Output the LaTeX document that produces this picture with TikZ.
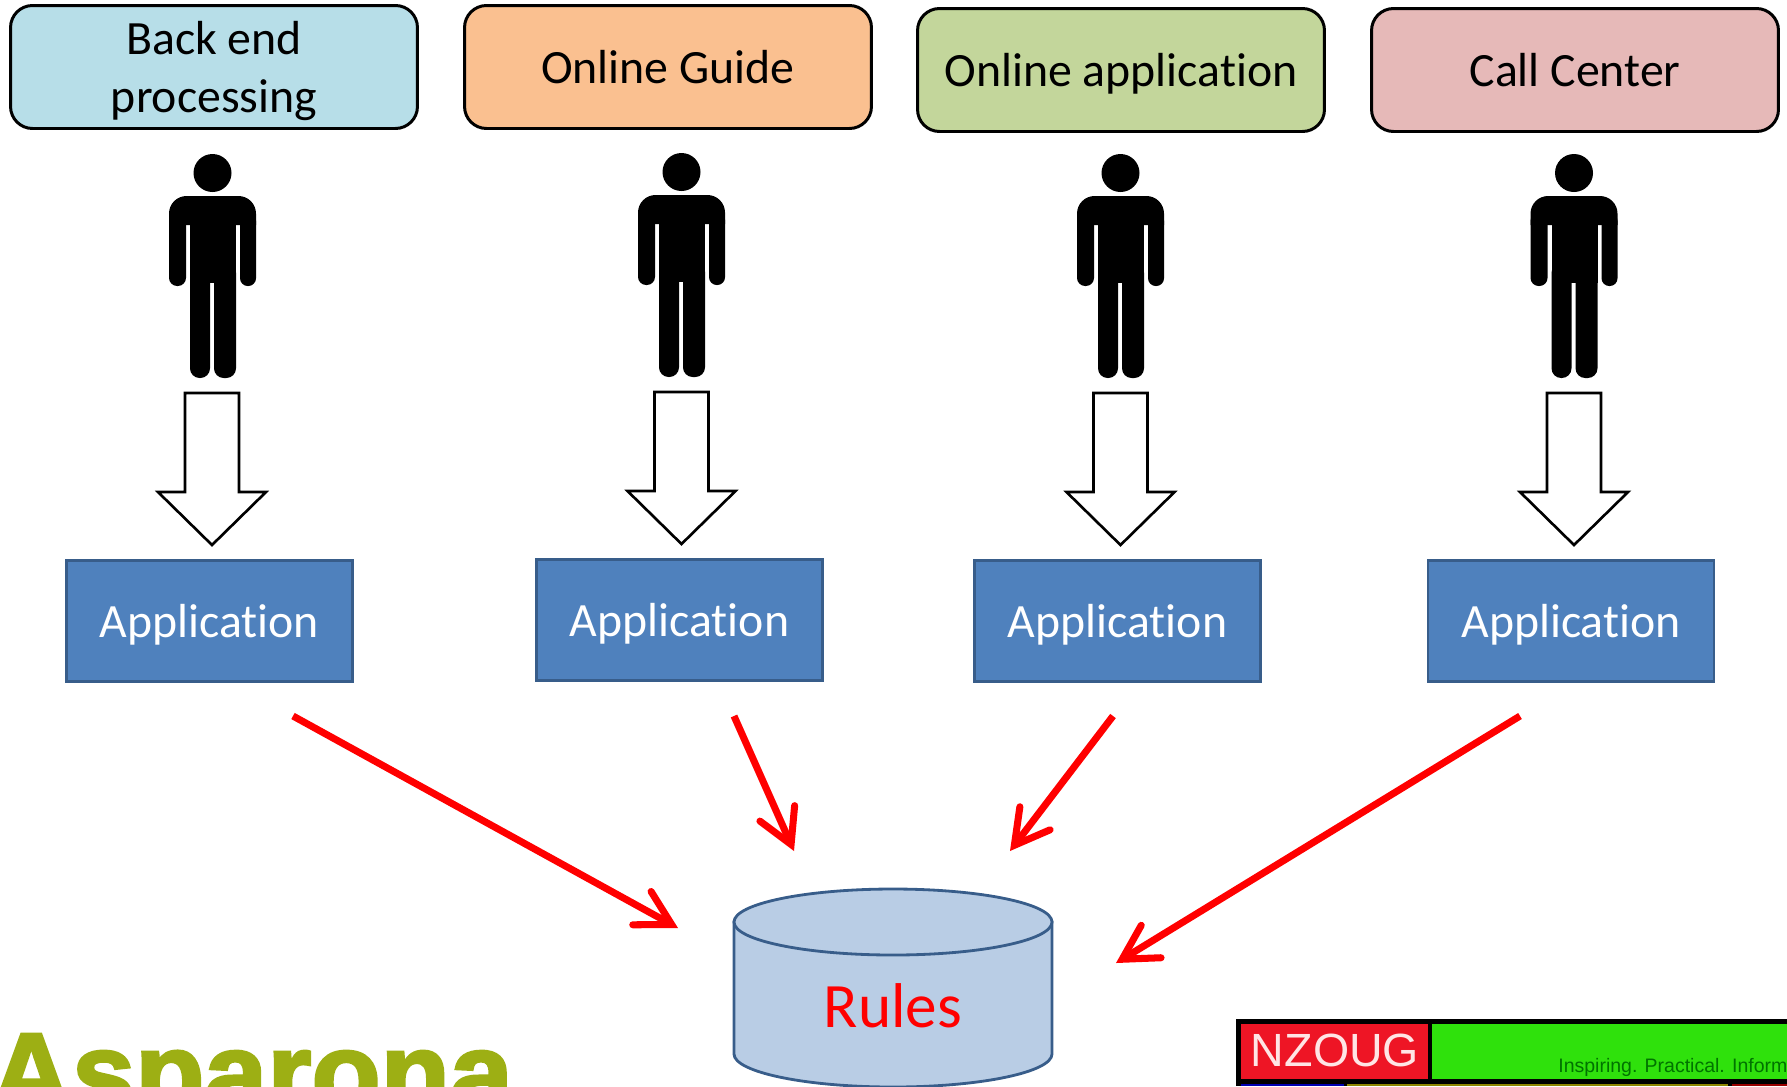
\documentclass[tikz,border=0pt]{standalone}
\usepackage{fontspec}
\setmainfont{Carlito}[Ligatures=NoCommon]
\newfontfamily\logofont{Liberation Sans}[BoldFeatures={FakeBold=2.5}]
\usepackage{tikz}
\usetikzlibrary{arrows.meta}

\definecolor{boxblue}{HTML}{B7DEE8}
\definecolor{boxorange}{HTML}{FAC090}
\definecolor{boxgreen}{HTML}{C3D69B}
\definecolor{boxred}{HTML}{E6B9B8}
\definecolor{appblue}{HTML}{4F81BD}
\definecolor{appedge}{HTML}{385D8A}
\definecolor{rulesblue}{HTML}{B9CDE5}
\definecolor{asparonagreen}{HTML}{9DAF14}
\definecolor{nzougred}{HTML}{EE1525}
\definecolor{nzouggreen}{HTML}{2FE10C}

\tikzset{
  group/.style={draw, fill=#1, line width=1.7pt, rounded corners=.44cm, align=center,
    text depth=0pt, minimum width=8.14cm, minimum height=2.46cm,
    font=\fontsize{27.2}{33}\selectfont},
  appl/.style={draw=appedge, fill=appblue, line width=1.2pt, text=white, text depth=0pt,
    minimum width=5.72cm, minimum height=2.42cm, font=\fontsize{27.2}{30}\selectfont},
  feed/.style={draw=red, line width=4pt,
    -{Straight Barb[length=.68cm, width=.76cm, line cap=round, line join=miter]}},
  person/.pic={
    \fill (0,0) circle (19);
    % shoulders and trunk
    \fill[rounded corners=10pt] (-43.5,52) -- (-43.5,23) -- (43.5,23) -- (43.5,52);
    \fill (-22.5,50) rectangle (23.5,110);
    % arms
    \fill[rounded corners=4.6pt] (-43.5,40) rectangle (-26.5,113);
    \fill[rounded corners=4.4pt] (27.5,40) rectangle (43.5,113);
    % legs
    \fill[rounded corners=5.5pt] (-22.5,90) rectangle (-2.5,205);
    \fill[rounded corners=5.5pt] (1.5,90) rectangle (23.5,205);
  },
  downarrow/.pic={
    \draw[fill=white, line width=1.5pt] (-27,0) -- (27,0) -- (27,99) -- (54,99) -- (0,152)
      -- (-54,99) -- (-27,99) -- cycle;
  }
}

\begin{document}
\begin{tikzpicture}[x=.02cm, y=-.02cm]
  \useasboundingbox (0,0) rectangle (1787,1086);
  \clip (0,0) rectangle (1787,1086);

  % channels
  \node[group=boxblue] (backend) at (214,67) {Back end\\processing};
  \node[group=boxorange] (guide) at (668,67) {Online Guide};
  \node[group=boxgreen] (online) at (1121,70) {Online application};
  \node[group=boxred] (call) at (1575,70) {Call Center};

  % people
  \pic at (212.5,173) {person};
  \pic at (681.5,172) {person};
  \pic at (1120.5,173) {person};
  \pic at (1574,173) {person};

  % block arrows
  \pic at (212,393) {downarrow};
  \pic at (681.5,392) {downarrow};
  \pic at (1120.5,393) {downarrow};
  \pic at (1574,393) {downarrow};

  % applications
  \node[appl] (app1) at (209.5,621) {Application};
  \node[appl] (app2) at (679.5,620) {Application};
  \node[appl] (app3) at (1117.5,621) {Application};
  \node[appl] (app4) at (1571,621) {Application};

  % rules store
  \filldraw[fill=rulesblue, draw=appedge, line width=1.6pt] (734,922) -- (734,1054)
    .. controls (734,1072) and (805,1087) .. (893,1087)
    .. controls (981,1087) and (1052,1072) .. (1052,1054) -- (1052,922) -- cycle;
  \filldraw[fill=rulesblue, draw=appedge, line width=1.6pt] (893,922) ellipse (159 and 33);
  \node[text=red, font=\fontsize{36}{40}\selectfont] (rules) at (893,1006) {Rules};

  % feeds into the store
  \coordinate (from1) at (293,716);
  \coordinate (from2) at (734,716);
  \coordinate (from3) at (1113,716);
  \coordinate (from4) at (1520,716);
  \coordinate (to1) at (678,928);
  \coordinate (to2) at (794,851);
  \coordinate (to3) at (1010,851);
  \coordinate (to4) at (1116,963);
  \draw[feed] (from1) -- (to1);
  \draw[feed] (from2) -- (to2);
  \draw[feed] (from3) -- (to3);
  \draw[feed] (from4) -- (to4);

  % logo left
  \node[anchor=base west, inner sep=0, text=asparonagreen,
    font=\logofont\bfseries\fontsize{64.5}{70}\selectfont] (asparona) at (-10,1112) {Asparona};

  % logo right
  \fill (1236,1019) rectangle (1787,1086);
  \fill[nzougred] (1241,1024) rectangle (1428,1079);
  \fill[nzouggreen] (1432,1024) rectangle (1787,1079);
  \fill[blue!70!black] (1241,1084) rectangle (1344,1086);
  \fill[olive] (1347,1084) rectangle (1728,1086);
  \fill[red!60!black] (1732,1084) rectangle (1787,1086);
  \node[text=white!90!red, font=\logofont\fontsize{26.5}{30}\selectfont] (nzoug) at (1335,1050) {NZOUG};
  \node[anchor=base west, inner sep=0, text=green!45!black,
    font=\logofont\fontsize{11.1}{13}\selectfont] (motto) at (1558,1072) {Inspiring. Practical. Informative.};
\end{tikzpicture}
\end{document}
